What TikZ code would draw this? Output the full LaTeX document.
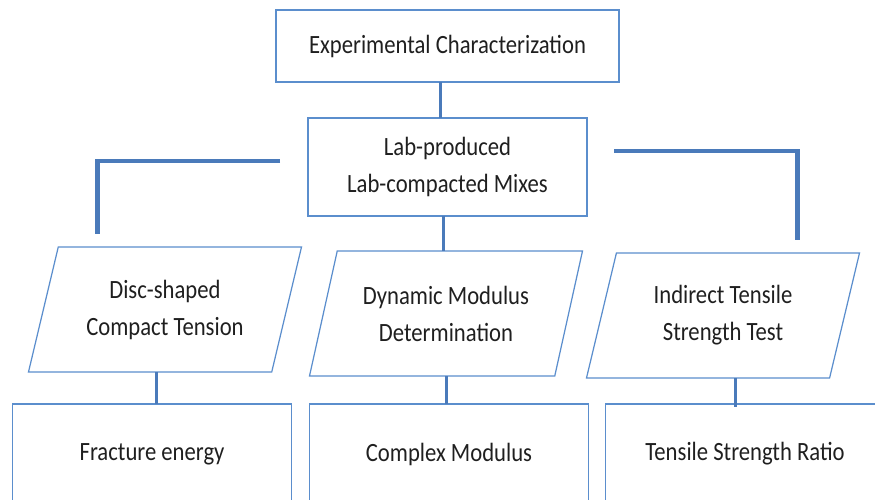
\documentclass[tikz,border=0pt]{standalone}
\usepackage{fontspec}
\setmainfont{Carlito}[FakeStretch=0.86]
\usepackage{xcolor}
\usepackage{tikz}
\usetikzlibrary{positioning,shapes.geometric}

\definecolor{boxblue}{RGB}{91,142,205}
\definecolor{linkblue}{RGB}{74,122,186}

\begin{document}
\begin{tikzpicture}[
  box/.style={draw=boxblue, line width=0.7pt, align=center, inner sep=0pt, outer sep=0pt,
              font=\fontsize{15}{21}\selectfont, text=black!88},
  slant/.style={box, trapezium, trapezium left angle=63.4, trapezium right angle=116.6,
                trapezium stretches body, minimum height=2.5cm, minimum width=5.46cm},
  result/.style={box, minimum width=5.58cm, minimum height=2cm},
  link/.style={draw=linkblue, line width=1.7pt},
  elbow/.style={draw=linkblue, line width=2.3pt}
]
\useasboundingbox (0,0) rectangle (17.5,-9.98);

\node[box, minimum width=6.86cm, minimum height=1.44cm] (top) at (8.95,-0.92) {Experimental Characterization};

\node[box, below=0.72cm of top, minimum width=5.58cm, minimum height=1.96cm] (lab) {Lab-produced\\Lab-compacted Mixes};

\node[slant, below=0.7cm of lab, xshift=-0.03cm] (pM) {Dynamic Modulus\\Determination};
\node[slant] (pL) at ([xshift=-5.62cm, yshift=0.08cm]pM) {Disc-shaped\\Compact Tension};
\node[slant] (pR) at ([xshift=5.54cm, yshift=-0.04cm]pM) {Indirect Tensile\\Strength Test};

\node[result, below=0.64cm of pL, xshift=-0.26cm] (bL) {Fracture energy};
\node[result, below=0.56cm of pM, xshift=0.06cm] (bM) {Complex Modulus};
\node[result, below=0.52cm of pR, xshift=0.44cm] (bR) {Tensile Strength Ratio};

\draw[link] ([xshift=-0.15cm]top.south) -- ([xshift=-0.15cm]top.south |- lab.north);
\draw[link] ([xshift=-0.08cm]lab.south) -- ([xshift=-0.08cm]lab.south |- pM.north);
\draw[elbow, shorten <=0.56cm, shorten >=0.26cm] ([yshift=0.12cm]lab.west) -| ([xshift=-1.35cm]pL.north);
\draw[elbow, shorten <=0.54cm, shorten >=0.26cm] ([yshift=0.32cm]lab.east) -| ([xshift=1.49cm]pR.north);
\draw[link] ([xshift=-0.17cm]pL.south) -- ([xshift=-0.17cm]pL.south |- bL.north);
\draw[link] (pM.south) -- (pM.south |- bM.north);
\draw[link, shorten >=-0.06cm] ([xshift=0.25cm]pR.south) -- ([xshift=0.25cm]pR.south |- bR.north);
\end{tikzpicture}
\end{document}
